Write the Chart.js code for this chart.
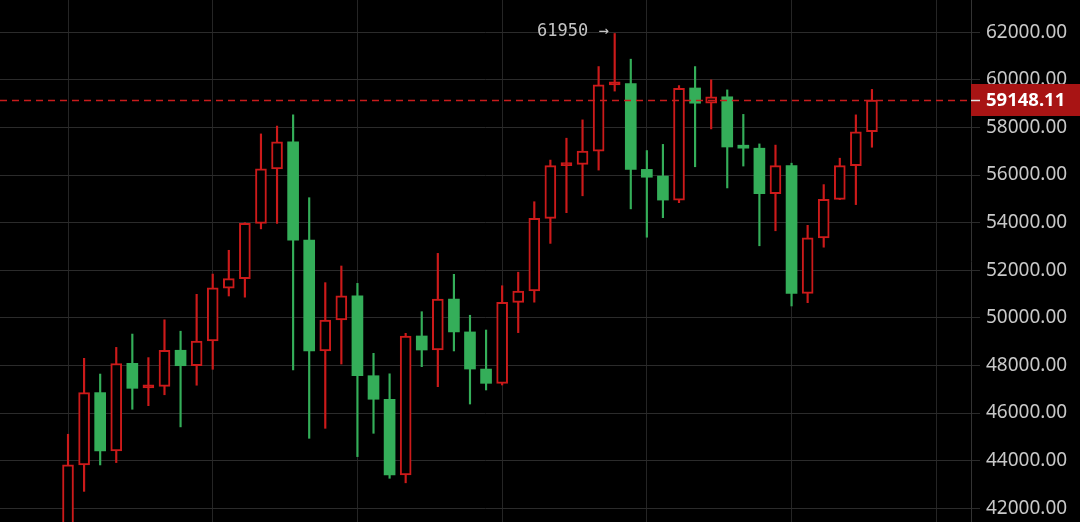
<!DOCTYPE html>
<html>
<head>
<meta charset="utf-8">
<script src="https://cdn.jsdelivr.net/npm/chart.js"></script>
<style>
html, body { margin: 0; padding: 0; background: #000; overflow: hidden; }
#wrap { width: 1080px; height: 522px; }
</style>
</head>
<body>
<div id="wrap"><canvas id="candles" width="1080" height="522"></canvas></div>
<script>
// OHLC, one candle per slot
var opens  = [41300, 43820, 46860, 44410, 48090, 47060, 47120, 48640, 47990, 49030,
              51250, 51650, 53970, 56260, 57400, 53270, 48610, 49910, 50930, 47570,
              46580, 43400, 49240, 48650, 50790, 49410, 47850, 47250, 50650, 51130,
              54180, 56400, 56450, 57010, 59790, 59850, 56240, 55960, 54950, 59660,
              59020, 59290, 57180, 57130, 55220, 56400, 51030, 53360, 54980, 56400,
              57820];
var highs  = [45110, 48300, 47640, 48760, 49320, 48330, 49920, 49440, 50990, 51840,
              52840, 54000, 57730, 58060, 58530, 55050, 51480, 52180, 51450, 48510,
              47650, 49350, 50260, 52710, 51830, 50110, 49490, 51350, 51920, 54880,
              56630, 57550, 58320, 60560, 61950, 60870, 57030, 57290, 59760, 60560,
              60000, 59580, 58550, 57310, 57260, 56500, 53890, 55600, 56710, 58530,
              59600];
var lows   = [40900, 42710, 43820, 43920, 46160, 46310, 46770, 45420, 47170, 47840,
              50920, 50870, 53740, 53970, 47810, 44940, 45360, 48060, 44170, 45150,
              43260, 43070, 47950, 47110, 48610, 46380, 46970, 47180, 49380, 50660,
              53130, 54420, 55130, 56210, 59530, 54580, 53390, 54210, 54840, 56350,
              57940, 55460, 56380, 53030, 53660, 50500, 50640, 52970, 54970, 54760,
              57170];
var closes = [43820, 46860, 44410, 48080, 47040, 47120, 48640, 47990, 49030, 51260,
              51650, 53970, 56260, 57400, 53270, 48610, 49910, 50930, 47570, 46580,
              43400, 49240, 48650, 50790, 49410, 47850, 47250, 50650, 51130, 54180,
              56400, 56450, 57010, 59790, 59850, 56240, 55910, 54950, 59650, 59020,
              59290, 57180, 57130, 55220, 56400, 51030, 53360, 54980, 56400, 57820,
              59148.11];
var yTicks = [42000, 44000, 46000, 48000, 50000, 52000, 54000, 56000, 58000, 60000, 62000];
var xGrid  = [0, 9, 18, 27, 36, 45, 54];
var lastPrice = 59148.11;

var UP = '#cc1a1a', DOWN = '#34ae59';

var ctx = document.getElementById('candles');

var isUp = closes.map(function(c, i){ return c >= opens[i]; });
// very thin up candles look solid
var isFlat = closes.map(function(c, i){ return Math.abs(c - opens[i]) < 150; });

var bodyData = [], wickData = [];
for (var i = 0; i < closes.length; i++) {
	bodyData.push({x: i, y: [opens[i], closes[i]]});
	wickData.push({x: i, y: [lows[i], highs[i]]});
}

var priceLine = {
	id: 'priceLine',
	afterDatasetsDraw: function(chart) {
		var c = chart.ctx, area = chart.chartArea;
		var ys = chart.scales.y, xs = chart.scales.x;
		var py = Math.round(ys.getPixelForValue(lastPrice)) + 0.5;
		c.save();
		c.strokeStyle = '#c81c1c';
		c.lineWidth = 1.5;
		c.setLineDash([7, 5]);
		c.beginPath();
		c.moveTo(area.left, py);
		c.lineTo(area.right, py);
		c.stroke();
		c.setLineDash([]);
		// max high marker
		var top = 0;
		for (var k = 1; k < highs.length; k++) { if (highs[k] > highs[top]) top = k; }
		c.font = '17px "DejaVu Sans Mono"';
		c.fillStyle = '#c4c4c4';
		c.textAlign = 'right';
		c.textBaseline = 'middle';
		c.fillText(highs[top] + ' \u2192', xs.getPixelForValue(top) - 6, ys.getPixelForValue(highs[top]) - 2);
		c.restore();
	},
	afterDraw: function(chart) {
		var c = chart.ctx, area = chart.chartArea;
		var py = Math.round(chart.scales.y.getPixelForValue(lastPrice));
		c.save();
		c.fillStyle = '#a81414';
		c.fillRect(area.right, py - 16, chart.width - area.right, 32);
		c.strokeStyle = '#e6e6e6';
		c.lineWidth = 1.5;
		c.beginPath();
		c.moveTo(area.right, py + 0.5);
		c.lineTo(area.right + 9, py + 0.5);
		c.stroke();
		c.font = 'bold 18.5px "Noto Sans"';
		c.fillStyle = '#ffffff';
		c.textAlign = 'left';
		c.textBaseline = 'middle';
		c.fillText(lastPrice.toFixed(2), area.right + 15, py + 1);
		c.restore();
	}
};

var chartData = {
	datasets: [{
		label: 'body',
		data: bodyData,
		order: 0,
		grouped: false,
		barThickness: 11,
		minBarLength: 3,
		borderSkipped: false,
		backgroundColor: isUp.map(function(u, i){ return u ? (isFlat[i] ? UP : '#000000') : DOWN; }),
		borderColor: isUp.map(function(u){ return u ? UP : DOWN; }),
		borderWidth: isUp.map(function(u){ return u ? 2 : 0; })
	}, {
		label: 'wick',
		data: wickData,
		order: 1,
		grouped: false,
		barThickness: 1.5,
		borderWidth: 0,
		backgroundColor: isUp.map(function(u){ return u ? UP : DOWN; })
	}]
};

var chartOptions = {
	responsive: false,
	animation: false,
	layout: { padding: 0 },
	plugins: { legend: { display: false }, tooltip: { enabled: false } },
	scales: {
		x: {
			type: 'linear',
			offset: false,
			min: -4.23,
			max: 56.16,
			afterBuildTicks: function(s){ s.ticks = xGrid.map(function(v){ return {value: v}; }); },
			afterFit: function(s){ s.height = 0; s.paddingLeft = 0; s.paddingRight = 0; },
			grid: { color: '#252525', drawTicks: false, offset: false },
			border: { display: false },
			ticks: { display: false }
		},
		y: {
			position: 'right',
			min: 41423,
			max: 63357,
			afterBuildTicks: function(s){ s.ticks = yTicks.map(function(v){ return {value: v}; }); },
			afterFit: function(s){ s.width = 109; s.paddingTop = 0; s.paddingBottom = 0; },
			grid: { color: '#2b2b2b', tickLength: 9 },
			border: { color: '#333333' },
			ticks: {
				color: '#c8c8c8',
				padding: 6,
				font: { family: 'Noto Sans', size: 19 },
				callback: function(v){ return Number(v).toFixed(2); }
			}
		}
	}
};

new Chart(ctx, {
	type: 'bar',
	data: chartData,
	options: chartOptions,
	plugins: [priceLine]
});
</script>
</body>
</html>
